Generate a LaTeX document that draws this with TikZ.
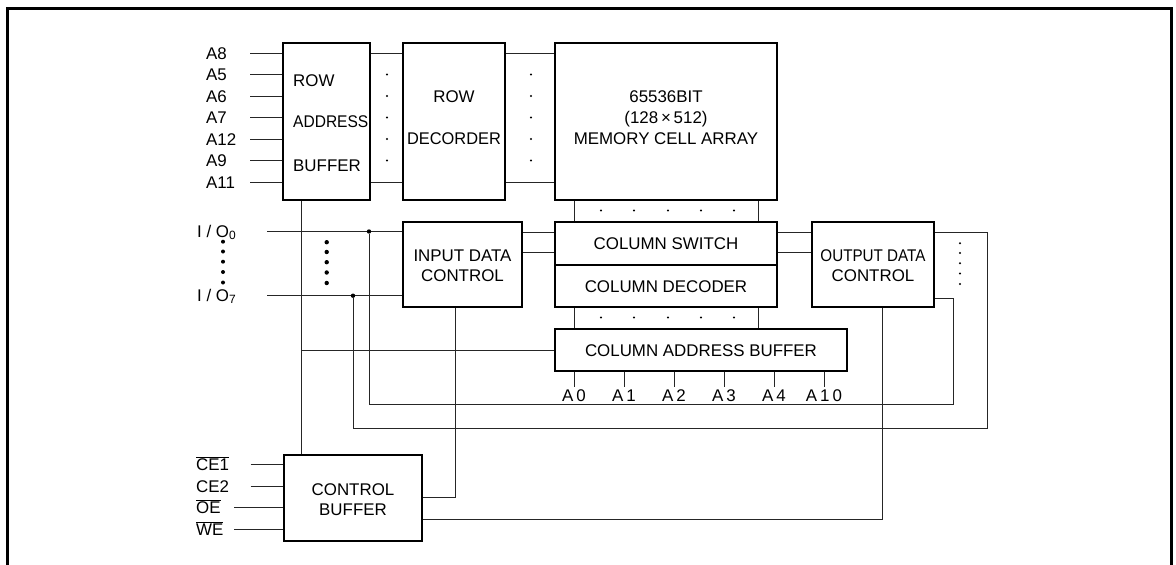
\documentclass[tikz,border=0pt]{standalone}
\usepackage{fontspec}
\usepackage{graphicx}
\setmainfont{Liberation Sans}
\tikzset{
  box/.style={draw=black, line width=1.5pt, inner sep=0pt},
  wire/.style={line width=0.9pt, draw=black!85},
  txt/.style={inner sep=0pt, font=\fontsize{16.9}{20}\selectfont},
  lbl/.style={inner sep=0pt, anchor=base west, font=\fontsize{16.9}{20}\selectfont},
  sdot/.style={circle, fill=black, inner sep=0pt, minimum size=2.2pt},
  bdot/.style={circle, fill=black, inner sep=0pt, minimum size=4.4pt},
  frame/.style={line width=3pt, draw=black},
}
\begin{document}
\begin{tikzpicture}[x=1pt,y=-1pt]
\useasboundingbox (0,0) rectangle (1176,565);
\draw[frame] (7.5,566) -- (7.5,8.5) -- (1171.5,8.5) -- (1171.5,566);

% boxes
\node[box, minimum width=87pt, minimum height=157pt] (rab) at (326.5,121.5) {};
\node[box, minimum width=102pt, minimum height=157pt] (rdec) at (454,121.5) {};
\node[box, minimum width=222pt, minimum height=157pt] (mem) at (666,121.5) {};
\node[box, minimum width=119pt, minimum height=85pt] (idc) at (462.5,264.5) {};
\node[box, minimum width=222pt, minimum height=43pt] (csw) at (666,243.5) {};
\node[box, minimum width=222pt, minimum height=42pt] (cdec) at (666,286) {};
\node[box, minimum width=122pt, minimum height=85pt] (odc) at (873,264.5) {};
\node[box, minimum width=292pt, minimum height=42pt] (cab) at (701,350) {};
\node[box, minimum width=138pt, minimum height=86pt] (cbuf) at (353,498) {};

% texts in boxes
\node[lbl] (t1) at (293,86) {ROW};
\node[lbl] (t2) at (293,127) {\scalebox{0.92}[1]{ADDRESS}};
\node[lbl] (t3) at (293,171) {BUFFER};
\node[txt, anchor=base] (t4) at (454,102.7) {ROW};
\node[txt, anchor=base] (t5) at (454,144) {\scalebox{0.97}[1]{DECORDER}};
\node[txt, anchor=base] (t6) at (666,102.7) {65536BIT};
\node[txt, anchor=base] (t7) at (666,123) {(128\,×\,512)};
\node[txt, anchor=base] (t8) at (666,144) {MEMORY CELL ARRAY};
\node[txt, anchor=base] (t9) at (462.5,261.7) {INPUT DATA};
\node[txt, anchor=base] (t10) at (462.5,281) {CONTROL};
\node[txt, anchor=base] (t11) at (666,249.3) {COLUMN SWITCH};
\node[txt, anchor=base] (t12) at (666,292) {COLUMN DECODER};
\node[txt, anchor=base] (t13) at (873,261) {\scalebox{0.9}[1]{OUTPUT DATA}};
\node[txt, anchor=base] (t14) at (873,281) {CONTROL};
\node[txt, anchor=base] (t15) at (701,356.7) {COLUMN ADDRESS BUFFER};
\node[txt, anchor=base] (t16) at (353,495) {CONTROL};
\node[txt, anchor=base] (t17) at (353,515) {BUFFER};

% row address inputs
\foreach \n/\y in {A8/53,A5/74.5,A6/96,A7/117.5,A12/139,A9/160.5,A11/182}{
  \node[lbl] (l\n) at (206,\y+6) {\n};
  \coordinate (s\n) at (250,\y);
  \draw[wire] (s\n) -- (s\n -| rab.west);
}
\draw[wire] (sA8 -| rab.east) -- (sA8 -| rdec.west);
\draw[wire] (sA11 -| rab.east) -- (sA11 -| rdec.west);
\draw[wire] (sA8 -| rdec.east) -- (sA8 -| mem.west);
\draw[wire] (sA11 -| rdec.east) -- (sA11 -| mem.west);
\foreach \y [count=\i] in {74.5,96,117.5,139,160.5}{
  \node[sdot] (ra\i) at (387,\y) {};
  \node[sdot] (rb\i) at (531,\y) {};
}

% column lines
\coordinate (cl) at (574,0);
\coordinate (cr) at (758,0);
\draw[wire] (mem.south -| cl) -- (csw.north -| cl);
\draw[wire] (mem.south -| cr) -- (csw.north -| cr);
\draw[wire] (cdec.south -| cl) -- (cab.north -| cl);
\draw[wire] (cdec.south -| cr) -- (cab.north -| cr);
\foreach \x [count=\i] in {601,634,668,701,734}{
  \node[sdot] (ca\i) at (\x,210.5) {};
  \node[sdot] (cb\i) at (\x,317.5) {};
}

% data paths
\coordinate (ya) at (0,232);
\coordinate (yb) at (0,252);
\coordinate (yc) at (0,298);
\draw[wire] (idc.east |- ya) -- (csw.west |- ya);
\draw[wire] (idc.east |- yb) -- (csw.west |- yb);
\draw[wire] (csw.east |- ya) -- (odc.west |- ya);
\draw[wire] (csw.east |- yb) -- (odc.west |- yb);

% I/O
\node[lbl] (io0l) at (197,237.5) {I / O\raisebox{-2pt}{\fontsize{12}{12}\selectfont 0}};
\node[lbl] (io7l) at (197,301.5) {I / O\raisebox{-2pt}{\fontsize{12}{12}\selectfont 7}};
\coordinate (io0) at (267,231.5);
\coordinate (io7) at (267,295.7);
\draw[wire] (io0) -- (io0 -| idc.west);
\draw[wire] (io7) -- (io7 -| idc.west);
\node[bdot] (j0) at (369,231.5) {};
\node[bdot] (j7) at (353,295.7) {};
\foreach \y [count=\i] in {241.7,251.5,261.7,272,282.5}{
  \node[bdot, minimum size=4pt] (ld\i) at (223,\y) {};
  \node[bdot] (md\i) at (326.7,\y+0.5) {};
  \node[sdot] (od\i) at (960,\y+1.5) {};
}
\coordinate (r1) at (987,0);
\coordinate (r2) at (953,0);
\coordinate (yl1) at (0,428);
\coordinate (yl2) at (0,404);
\draw[wire] (odc.east |- ya) -- (r1 |- ya) -- (r1 |- yl1) -- (j7 |- yl1) -- (j7);
\draw[wire] (odc.east |- yc) -- (r2 |- yc) -- (r2 |- yl2) -- (j0 |- yl2) -- (j0);

% row buffer to control buffer / column address buffer
\coordinate (vx) at (301,0);
\draw[wire] (rab.south -| vx) -- (cbuf.north -| vx);
\draw[wire] (vx |- cab.west) -- (cab.west);

% control buffer outputs
\coordinate (c1) at (455.7,497.7);
\coordinate (c2) at (882,519);
\draw[wire] (cbuf.east |- c1) -- (c1) -- (idc.south -| c1);
\draw[wire] (cbuf.east |- c2) -- (c2) -- (odc.south -| c2);

% column address inputs
\foreach \n/\x [count=\i] in {A\hspace{3pt}0/574,A\hspace{3pt}1/624,A\hspace{3pt}2/674,A\hspace{3pt}3/724,A\hspace{3pt}4/774,A\hspace{3pt}1\hspace{3pt}0/824}{
  \coordinate (ct\i) at (\x,387);
  \draw[wire] (cab.south -| ct\i) -- (ct\i);
  \node[txt, anchor=base] (cal\i) at (\x,401.7) {\n};
}

% control inputs
\foreach \t/\y/\xs [count=\i] in {$\overline{\mbox{CE1}}$/464.3/250.7,CE2/486/250.7,$\overline{\mbox{OE}}$/507.3/234,$\overline{\mbox{WE}}$/529/234}{
  \node[lbl] (cil\i) at (196,\y+6) {\t};
  \coordinate (cs\i) at (\xs,\y);
  \draw[wire] (cs\i) -- (cs\i -| cbuf.west);
}
\end{tikzpicture}
\end{document}
